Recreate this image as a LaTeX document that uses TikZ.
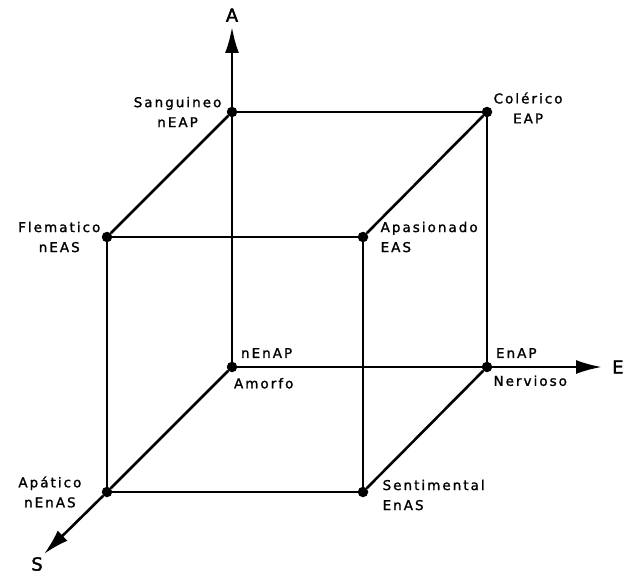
\documentclass[tikz,border=0pt]{standalone}
\usepackage{fontspec}
\newfontfamily\lblfont[LetterSpace=15, FakeBold=1.4]{DejaVu Sans}
\newfontfamily\axisfont[FakeBold=2]{DejaVu Sans}
\usetikzlibrary{arrows.meta, positioning}

\begin{document}
\begin{tikzpicture}[
    x=1pt, y=1pt,
    vertex/.style={circle, fill=black, inner sep=0pt, minimum size=10.5pt},
    tag/.style={font=\lblfont\fontsize{13.5}{20}\selectfont, inner sep=0pt, align=center},
    axislabel/.style={font=\axisfont\fontsize{18}{22}\selectfont, inner sep=0pt},
    edge/.style={line width=2.6pt},
    axis/.style={line width=2.6pt, -{Latex[length=26pt, width=14pt]}},
]
    \useasboundingbox (0,0) rectangle (632,574);

    % corners of the cube
    \node (amorfo) [vertex] at (232,207) {};
    \node (nervioso) [vertex] at (487,207) {};
    \node (sanguineo) [vertex] at (232,462) {};
    \node (colerico) [vertex] at (487,462) {};
    \node (apatico) [vertex] at (107,82) {};
    \node (sentimental) [vertex] at (363,82) {};
    \node (flematico) [vertex] at (107,337) {};
    \node (apasionado) [vertex] at (363,337) {};

    % axis ends
    \coordinate (atip) at (232,547);
    \coordinate (etip) at (602,207);
    \coordinate (stip) at (44,20);

    % labels
    \node (sang_lbl) [tag, left=5pt of sanguineo] {Sanguineo\\nEAP};
    \node (coler_lbl) [tag, right=1pt of colerico, yshift=4pt] {Colérico\\EAP};
    \node (flem_lbl) [tag, left=1pt of flematico] {Flematico\\nEAS};
    \node (apas_lbl) [tag, right=12pt of apasionado, align=left] {Apasionado\\EAS};
    \node (amorfo_code) [tag, above right=5pt and 5pt of amorfo] {nEnAP};
    \node (amorfo_lbl) [tag, below right=7pt and -2pt of amorfo] {Amorfo};
    \node (nerv_code) [tag, above right=5pt and 5pt of nervioso] {EnAP};
    \node (nerv_lbl) [tag, below right=4.5pt and 2.5pt of nervioso] {Nervioso};
    \node (apat_lbl) [tag, left=20pt of apatico] {Apático\\nEnAS};
    \node (sent_lbl) [tag, right=14pt of sentimental, align=left, yshift=-3pt] {Sentimental\\EnAS};

    \node (a_lbl) [axislabel, above=5pt of atip] {A};
    \node (e_lbl) [axislabel, right=10pt of etip] {E};
    \node (s_lbl) [axislabel, below left=3pt and 1pt of stip] {S};

    % edges
    \draw [edge] (amorfo) -- (nervioso);
    \draw [edge] (amorfo) -- (sanguineo);
    \draw [edge] (amorfo) -- (apatico);
    \draw [edge] (sanguineo) -- (colerico);
    \draw [edge] (nervioso) -- (colerico);
    \draw [edge] (sanguineo) -- (flematico);
    \draw [edge] (colerico) -- (apasionado);
    \draw [edge] (nervioso) -- (sentimental);
    \draw [edge] (flematico) -- (apasionado);
    \draw [edge] (apatico) -- (sentimental);
    \draw [edge] (flematico) -- (apatico);
    \draw [edge] (apasionado) -- (sentimental);

    % axes
    \draw [axis] (sanguineo) -- (atip);
    \draw [axis] (nervioso) -- (etip);
    \draw [axis] (apatico) -- (stip);

\end{tikzpicture}
\end{document}
